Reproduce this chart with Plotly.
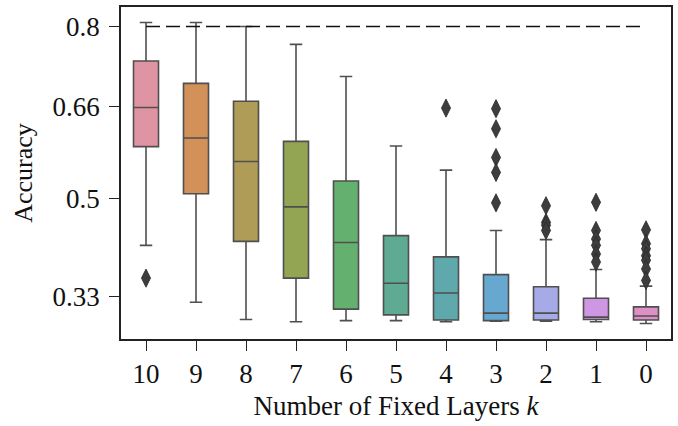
import plotly.graph_objects as go

categories = ["10", "9", "8", "7", "6", "5", "4", "3", "2", "1", "0"]
q1 = [0.591, 0.509, 0.426, 0.362, 0.308, 0.298, 0.289, 0.288, 0.289, 0.290, 0.289]
median = [0.659, 0.606, 0.565, 0.486, 0.424, 0.353, 0.336, 0.301, 0.301, 0.294, 0.296]
q3 = [0.740, 0.701, 0.670, 0.600, 0.531, 0.436, 0.399, 0.368, 0.347, 0.327, 0.312]
lowerfence = [0.419, 0.320, 0.290, 0.286, 0.288, 0.288, 0.286, 0.287, 0.287, 0.286, 0.283]
upperfence = [0.807, 0.807, 0.800, 0.769, 0.713, 0.592, 0.550, 0.445, 0.429, 0.377, 0.348]
outliers = {
    "10": [0.362],
    "4": [0.658],
    "3": [0.657, 0.622, 0.572, 0.546, 0.493],
    "2": [0.488, 0.459, 0.454, 0.445],
    "1": [0.494, 0.445, 0.430, 0.419, 0.404, 0.390],
    "0": [0.446, 0.422, 0.413, 0.401, 0.393, 0.378, 0.358],
}
reference_accuracy = 0.8
colors = ["#DE94A3", "#D29159", "#AE9C57", "#93A453", "#64B06E", "#5EAA93",
          "#5FA8AC", "#66A8D0", "#A6AAE6", "#CF97E3", "#DD90C5"]
ytick_vals = [0.33, 0.5, 0.66, 0.8]
ytick_text = ["0.33", "0.5", "0.66", "0.8"]

fig = go.Figure()
line_col = "#4f4f4f"
for i, c in enumerate(categories):
    fig.add_trace(go.Box(
        x=[c], q1=[q1[i]], median=[median[i]], q3=[q3[i]],
        lowerfence=[lowerfence[i]], upperfence=[upperfence[i]],
        fillcolor=colors[i], line=dict(color=line_col, width=1.6),
        width=0.5, whiskerwidth=0.5, boxpoints=False, showlegend=False,
    ))

ox, oy = [], []
for c, vals in outliers.items():
    for v in vals:
        ox.append(c)
        oy.append(v)
fig.add_trace(go.Scatter(
    x=ox, y=oy, mode="markers", showlegend=False,
    marker=dict(symbol="diamond-tall", size=13, color="#3d3d3d",
                line=dict(color="#2a2a2a", width=0.8)),
))

fig.add_trace(go.Scatter(
    x=[categories[0], categories[-1]], y=[reference_accuracy, reference_accuracy],
    mode="lines", showlegend=False,
    line=dict(color="#111111", width=1.5, dash="14px,6px"),
))

font_family = "Liberation Serif, Times New Roman, serif"
fig.update_layout(
    width=678, height=426,
    margin=dict(l=121, r=7, t=5, b=87),
    paper_bgcolor="white", plot_bgcolor="white",
    font=dict(family=font_family, color="#111111", size=27),
)
fig.update_xaxes(
    type="category", categoryorder="array", categoryarray=categories,
    range=[-0.5, 10.5],
    showline=True, linecolor="#222222", linewidth=1.5, mirror=True,
    ticks="outside", ticklen=10, tickwidth=1.3, tickcolor="#222222",
    showgrid=False, zeroline=False,
    tickfont=dict(size=27),
    title=dict(text="Number of Fixed Layers <i>k</i>", font=dict(size=27), standoff=8),
)
fig.update_yaxes(
    range=[0.256, 0.834],
    tickvals=ytick_vals, ticktext=ytick_text,
    showline=True, linecolor="#222222", linewidth=1.5, mirror=True,
    ticks="outside", ticklen=10, tickwidth=1.3, tickcolor="#222222",
    ticklabelstandoff=4,
    showgrid=False, zeroline=False,
    tickfont=dict(size=27),
    title=dict(text="Accuracy", font=dict(size=26), standoff=12),
)

fig.write_html("out.html")
